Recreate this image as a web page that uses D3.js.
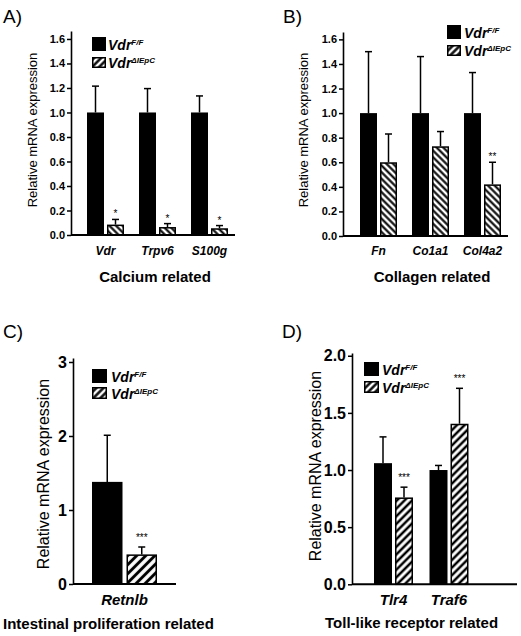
<!DOCTYPE html>
<html><head><meta charset="utf-8">
<script src="https://cdn.jsdelivr.net/npm/d3@7"></script>
<style>body{margin:0;background:#fff}svg{display:block;font-family:"Liberation Sans",Arial,sans-serif}</style>
</head><body><svg id="c" width="521" height="636"></svg>
<script>
// ---- data ----
const legendBase = ["Vdr", "Vdr"];
const legendSup = ["F/F", "ΔIEpC"];

const catsA = ["Vdr", "Trpv6", "S100g"];
const ctrlA = [1.0, 1.0, 1.0];
const ctrlErrA = [0.215, 0.195, 0.135];
const koA = [0.085, 0.065, 0.055];
const koErrA = [0.042, 0.028, 0.022];
const sigA = ["*", "*", "*"];
const ticksA = [0, 0.2, 0.4, 0.6, 0.8, 1.0, 1.2, 1.4, 1.6];

const catsB = ["Fn", "Co1a1", "Col4a2"];
const ctrlB = [1.0, 1.0, 1.0];
const ctrlErrB = [0.50, 0.46, 0.33];
const koB = [0.60, 0.73, 0.42];
const koErrB = [0.23, 0.12, 0.18];
const sigB = ["", "", "**"];
const ticksB = [0, 0.2, 0.4, 0.6, 0.8, 1.0, 1.2, 1.4, 1.6];

const catsC = ["Retnlb"];
const ctrlC = [1.38];
const ctrlErrC = [0.63];
const koC = [0.40];
const koErrC = [0.10];
const sigC = ["***"];
const ticksC = [0, 1, 2, 3];

const catsD = ["Tlr4", "Traf6"];
const ctrlD = [1.06, 1.0];
const ctrlErrD = [0.23, 0.04];
const koD = [0.76, 1.405];
const koErrD = [0.09, 0.31];
const sigD = ["***", "***"];
const ticksD = [0, 0.5, 1.0, 1.5, 2.0];

const titles = ["Calcium related", "Collagen related", "Intestinal proliferation related", "Toll-like receptor related"];
const panelLabels = ["A)", "B)", "C)", "D)"];

// ---- layout ----
const svg = d3.select("#c");
const defs = svg.append("defs");
const FONT = '"Liberation Sans",Arial,sans-serif';

function makePattern(id, dir, s, w) {
  const p = defs.append("pattern").attr("id", id).attr("patternUnits", "userSpaceOnUse")
    .attr("width", s).attr("height", s)
    .attr("patternTransform", `rotate(${dir === "/" ? 45 : -45})`);
  p.append("rect").attr("width", s).attr("height", s).attr("fill", "#fff");
  p.append("line").attr("x1", s / 2).attr("x2", s / 2).attr("y1", -1).attr("y2", s + 1)
    .attr("stroke", "#000").attr("stroke-width", w);
}
makePattern("hAB", "\\", 4.7, 2.1);
makePattern("hC", "/", 6.4, 3);
makePattern("hD", "/", 5.4, 2.5);
makePattern("hL", "/", 5.0, 2.4);

const panels = [
  { label: panelLabels[0], lx: 3, ly: 23, cats: catsA, ctrl: ctrlA, ctrlErr: ctrlErrA, ko: koA, koErr: koErrA, sig: sigA,
    ticks: ticksA, fmt: d3.format(".1f"), yMax: 1.665, y0: 235, yTop: 31, axisX: 71, xEnd: 235,
    c0: 105.5, step: 52, bw: 37, gap: 3, hatch: "hAB", tickFs: 11, ytFs: 13, ytX: 32, ytY: 130,
    catFs: 12, catY: 255, title: titles[0], tX: 155, tY: 282, tAnchor: "middle", sigFs: 10, sigGap: 2,
    leg: { x: 92, y1: 37, h1: 14, y2: 57, h2: 11, w: 14, tx: 108, b1: 50, b2: 68 } },
  { label: panelLabels[1], lx: 283, ly: 23, cats: catsB, ctrl: ctrlB, ctrlErr: ctrlErrB, ko: koB, koErr: koErrB, sig: sigB,
    ticks: ticksB, fmt: d3.format(".1f"), yMax: 1.66, y0: 236, yTop: 32, axisX: 343, xEnd: 508,
    c0: 378.5, step: 52, bw: 37, gap: 3, hatch: "hAB", tickFs: 11, ytFs: 13, ytX: 303, ytY: 130,
    catFs: 12, catY: 255, title: titles[1], tX: 432, tY: 282, tAnchor: "middle", sigFs: 10, sigGap: 2,
    leg: { x: 447, y1: 25, h1: 14, y2: 45, h2: 11, w: 14, tx: 464, b1: 38, b2: 56 } },
  { label: panelLabels[2], lx: 3, ly: 338, cats: catsC, ctrl: ctrlC, ctrlErr: ctrlErrC, ko: koC, koErr: koErrC, sig: sigC,
    ticks: ticksC, fmt: d3.format("d"), yMax: 3.054, y0: 584, yTop: 358, axisX: 73, xEnd: 176,
    c0: 124.5, step: 103, bw: 65, gap: 4, hatch: "hC", tickFs: 16, ytFs: 16, ytX: 43, ytY: 474,
    catFs: 15, catY: 605, title: titles[2], tX: 3, tY: 629, tAnchor: "start", sigFs: 10, sigGap: 6,
    leg: { x: 92, y1: 369, h1: 14, y2: 387, h2: 12, w: 15, tx: 111, b1: 382, b2: 399 } },
  { label: panelLabels[3], lx: 282, ly: 338, cats: catsD, ctrl: ctrlD, ctrlErr: ctrlErrD, ko: koD, koErr: koErrD, sig: sigD,
    ticks: ticksD, fmt: d3.format(".1f"), yMax: 2.024, y0: 584.3, yTop: 353, axisX: 352, xEnd: 517,
    c0: 393.5, step: 55.5, bw: 39, gap: 3, hatch: "hD", tickFs: 16, ytFs: 16, ytX: 315, ytY: 466,
    catFs: 15, catY: 605, title: titles[3], tX: 325, tY: 628, tAnchor: "start", sigFs: 10, sigGap: 6,
    leg: { x: 364, y1: 362, h1: 14, y2: 381, h2: 12, w: 15, tx: 382, b1: 375, b2: 393 } }
];

panels.forEach(p => {
  const g = svg.append("g");
  const y = d3.scaleLinear().domain([0, p.yMax]).range([p.y0, p.yTop]);
  const pad = 1 - p.bw / p.step;
  const x = d3.scaleBand().domain(p.cats)
    .range([p.c0 - p.step / 2, p.c0 + p.step * (p.cats.length - 0.5)])
    .paddingInner(pad).paddingOuter(pad / 2);
  const xs = d3.scaleBand().domain(["ctrl", "ko"]).range([0, x.bandwidth()])
    .paddingInner(2 * p.gap / (x.bandwidth() + p.gap));

  // panel label
  g.append("text").attr("x", p.lx).attr("y", p.ly).attr("font-size", 19).attr("fill", "#000").text(p.label);

  // bars data
  const data = [];
  p.cats.forEach((c, i) => {
    data.push({ cat: c, key: "ctrl", v: p.ctrl[i], e: p.ctrlErr[i], s: "" });
    data.push({ cat: c, key: "ko", v: p.ko[i], e: p.koErr[i], s: p.sig[i] });
  });

  // error bars (behind bars not needed; drawn upward)
  const eb = g.append("g").attr("stroke", "#000").attr("stroke-width", 1.5);
  data.forEach(d => {
    const cx = x(d.cat) + xs(d.key) + xs.bandwidth() / 2;
    eb.append("line").attr("x1", cx).attr("x2", cx).attr("y1", y(d.v)).attr("y2", y(d.v + d.e));
    eb.append("line").attr("x1", cx - 3.5).attr("x2", cx + 3.5).attr("y1", y(d.v + d.e)).attr("y2", y(d.v + d.e));
  });

  g.append("g").selectAll("rect").data(data).join("rect")
    .attr("x", d => x(d.cat) + xs(d.key) + (d.key === "ko" ? 0.75 : 0))
    .attr("y", d => y(d.v) + (d.key === "ko" ? 0.75 : 0))
    .attr("width", d => xs.bandwidth() - (d.key === "ko" ? 1.5 : 0))
    .attr("height", d => y(0) - y(d.v) - (d.key === "ko" ? 0.75 : 0))
    .attr("fill", d => d.key === "ctrl" ? "#000" : `url(#${p.hatch})`)
    .attr("stroke", d => d.key === "ko" ? "#000" : "none")
    .attr("stroke-width", 1.5);

  // significance
  g.append("g").selectAll("text").data(data.filter(d => d.s)).join("text")
    .attr("x", d => x(d.cat) + xs(d.key) + xs.bandwidth() / 2)
    .attr("y", d => y(d.v + d.e) - p.sigGap)
    .attr("text-anchor", "middle").attr("font-size", p.sigFs).attr("fill", "#000")
    .text(d => d.s);

  // y axis
  const ax = g.append("g").attr("transform", `translate(${p.axisX},0)`)
    .call(d3.axisLeft(y).tickValues(p.ticks).tickFormat(p.fmt).tickSize(4).tickSizeOuter(0).tickPadding(2));
  ax.select(".domain").attr("stroke", "#000").attr("stroke-width", 1.6);
  ax.selectAll(".tick line").attr("stroke", "#000").attr("stroke-width", 1.5);
  ax.selectAll(".tick text").attr("font-size", p.tickFs).attr("font-weight", "bold")
    .attr("font-family", FONT).attr("fill", "#000");

  // baseline
  g.append("line").attr("x1", p.axisX).attr("x2", p.xEnd).attr("y1", y(0)).attr("y2", y(0))
    .attr("stroke", "#000").attr("stroke-width", 2);

  // y title
  g.append("text").attr("transform", `translate(${p.ytX},${p.ytY}) rotate(-90)`)
    .attr("text-anchor", "middle").attr("dominant-baseline", "central")
    .attr("font-size", p.ytFs).attr("fill", "#000").text("Relative mRNA expression");

  // category labels
  g.append("g").selectAll("text").data(p.cats).join("text")
    .attr("x", d => x(d) + x.bandwidth() / 2).attr("y", p.catY)
    .attr("text-anchor", "middle").attr("font-size", p.catFs)
    .attr("font-weight", "bold").attr("font-style", "italic").attr("fill", "#000").text(d => d);

  // group title
  g.append("text").attr("x", p.tX).attr("y", p.tY).attr("text-anchor", p.tAnchor)
    .attr("font-size", 15).attr("font-weight", "bold").attr("fill", "#000").text(p.title);

  // legend
  const L = p.leg;
  g.append("rect").attr("x", L.x).attr("y", L.y1).attr("width", L.w).attr("height", L.h1).attr("fill", "#000");
  g.append("rect").attr("x", L.x + 0.75).attr("y", L.y2 + 0.75).attr("width", L.w - 1.5).attr("height", L.h2 - 1.5)
    .attr("fill", "url(#hL)").attr("stroke", "#000").attr("stroke-width", 1.5);
  [L.b1, L.b2].forEach((b, i) => {
    const t = g.append("text").attr("x", L.tx).attr("y", b).attr("font-weight", "bold")
      .attr("font-style", "italic").attr("fill", "#000");
    t.append("tspan").attr("font-size", 14).text(legendBase[i]);
    t.append("tspan").attr("font-size", 8).attr("dy", -5).text(legendSup[i]);
  });
});
</script></body></html>
